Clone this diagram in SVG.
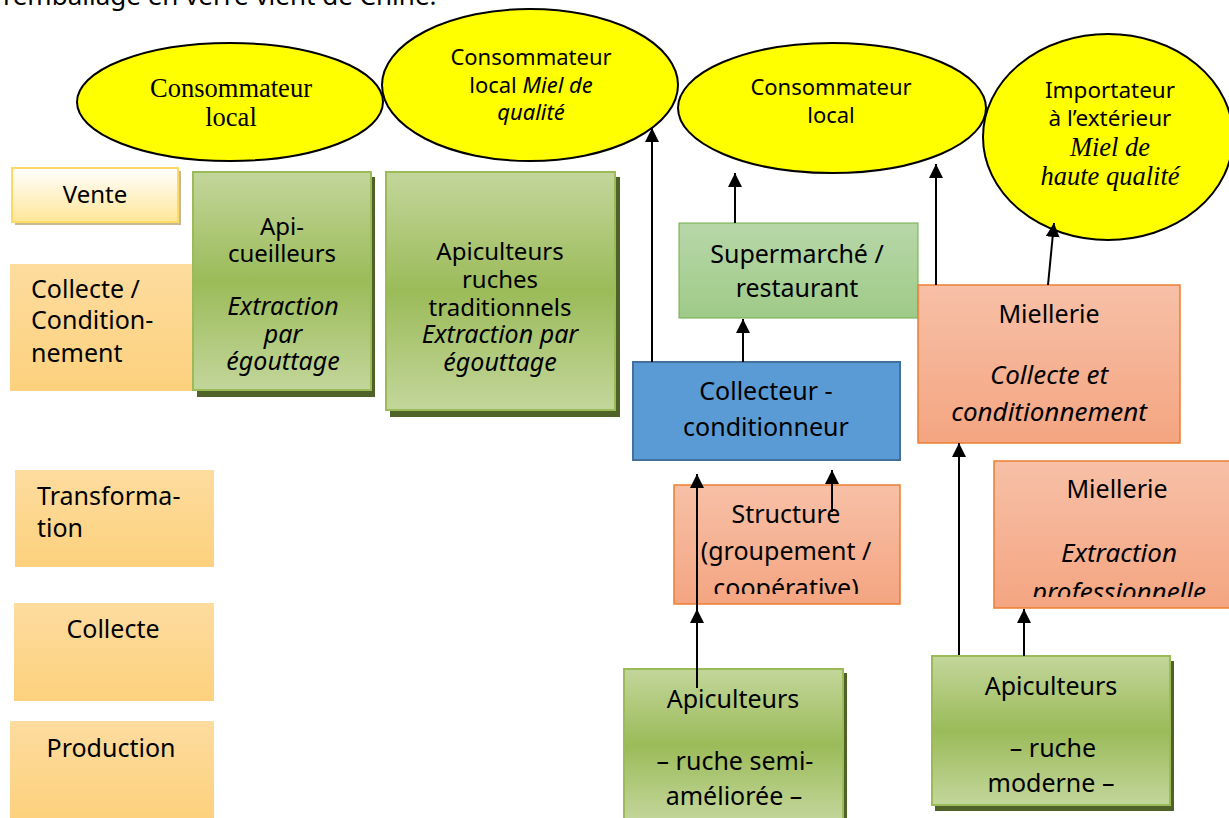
<svg xmlns="http://www.w3.org/2000/svg" width="1229" height="818" viewBox="0 0 1229 818">
<defs>
<linearGradient id="gOrange" x1="0" y1="0" x2="0" y2="1"><stop offset="0" stop-color="#FDDC9F"/><stop offset="1" stop-color="#FDD17D"/></linearGradient>
<linearGradient id="gVente" x1="0" y1="0" x2="0" y2="1"><stop offset="0" stop-color="#FFFFFF"/><stop offset="1" stop-color="#FFE697"/></linearGradient>
<linearGradient id="gGreen" x1="0" y1="0" x2="0" y2="1"><stop offset="0" stop-color="#C3D69B"/><stop offset="0.5" stop-color="#9BBB59"/><stop offset="1" stop-color="#C3D69B"/></linearGradient>
<linearGradient id="gLight" x1="0" y1="0" x2="0" y2="1"><stop offset="0" stop-color="#B7D7A8"/><stop offset="1" stop-color="#9FCA88"/></linearGradient>
<linearGradient id="gSalmon" x1="0" y1="0" x2="0" y2="1"><stop offset="0" stop-color="#F7C0A7"/><stop offset="1" stop-color="#F4A581"/></linearGradient>
<marker id="arr" markerUnits="userSpaceOnUse" markerWidth="14" markerHeight="14" refX="14" refY="7" orient="auto"><path d="M0,0 L14,7 L0,14 z" fill="#000"/></marker>
<clipPath id="clipStruct"><rect x="674" y="485" width="226" height="109"/></clipPath>
<clipPath id="clipMiel2"><rect x="994" y="461" width="235" height="136"/></clipPath>
</defs>
<style>
.sans{font-family:"Noto Sans","DejaVu Sans",sans-serif;font-size:24px;fill:#000}
.e{font-size:22px}
.l{font-size:25px}
.r{font-size:25px}
.ri{font-size:26px}
.ser{font-family:"Liberation Serif","Times New Roman",serif;font-size:26.5px;fill:#000}
.it{font-style:italic}
.c{text-anchor:middle}
.ell{fill:#FFFF00;stroke:#000;stroke-width:2}
.lab{fill:url(#gOrange)}
.grn{fill:url(#gGreen);stroke:#9BBB59;stroke-width:2}
.shd{fill:#4F6228}
.sal{fill:url(#gSalmon);stroke:#ED7D31;stroke-width:1.5}
.con{stroke:#000;stroke-width:2;fill:none;marker-end:url(#arr)}
</style>
<rect width="1229" height="818" fill="#fff"/>
<text class="sans" x="3" y="5" style="font-size:26px">l’emballage en verre vient de Chine.</text>

<g id="n-conso1"><ellipse class="ell" cx="230" cy="102" rx="153" ry="59"/><text class="ser c" x="231" y="97">Consommateur</text><text class="ser c" x="231" y="126">local</text></g>
<g id="n-conso2"><ellipse class="ell" cx="530" cy="85" rx="148" ry="76"/><text class="sans e c" x="531" y="65">Consommateur</text><text class="sans e c" x="531" y="93">local <tspan class="it">Miel de</tspan></text><text class="sans e c it" x="531" y="120">qualité</text></g>
<g id="n-conso3"><ellipse class="ell" cx="832" cy="108" rx="154" ry="65"/><text class="sans e c" x="831" y="95">Consommateur</text><text class="sans e c" x="831" y="123">local</text></g>
<g id="n-import"><ellipse class="ell" cx="1108" cy="137" rx="125" ry="103"/><text class="sans c" x="1110" y="98" style="font-size:22.5px">Importateur</text><text class="sans c" x="1110" y="126" style="font-size:22.5px">à l’extérieur</text><text class="ser c it" x="1110" y="156">Miel de</text><text class="ser c it" x="1110" y="185">haute qualité</text></g>

<g id="n-vente"><rect x="15" y="171" width="166" height="54" fill="#C9B98E"/><rect x="12" y="168" width="166" height="54" fill="url(#gVente)" stroke="#FFD966" stroke-width="2"/><text class="sans c" x="95" y="203">Vente</text></g>
<g id="n-collcond"><rect class="lab" x="10" y="264" width="184" height="127"/><text class="sans l" x="31" y="298">Collecte /</text><text class="sans l" x="31" y="329">Condition-</text><text class="sans l" x="31" y="362">nement</text></g>
<g id="n-transfo"><rect class="lab" x="15" y="470" width="199" height="97"/><text class="sans l" x="37" y="505">Transforma-</text><text class="sans l" x="37" y="537">tion</text></g>
<g id="n-collecte"><rect class="lab" x="14" y="603" width="200" height="98"/><text class="sans l c" x="113" y="638">Collecte</text></g>
<g id="n-production"><rect class="lab" x="10" y="721" width="204" height="97"/><text class="sans l c" x="111" y="757">Production</text></g>

<g id="n-apicueil"><rect class="shd" x="197" y="177" width="178" height="220"/><rect class="grn" x="193" y="172" width="178" height="218"/><text class="sans c" x="282" y="235">Api-</text><text class="sans c" x="282" y="262">cueilleurs</text><text class="sans l c it" x="283" y="315">Extraction</text><text class="sans l c it" x="283" y="343">par</text><text class="sans l c it" x="283" y="370">égouttage</text></g>
<g id="n-apitrad"><rect class="shd" x="390" y="177" width="230" height="240"/><rect class="grn" x="386" y="172" width="229" height="238"/><text class="sans c" x="500" y="260">Apiculteurs</text><text class="sans c" x="500" y="288">ruches</text><text class="sans c" x="500" y="316">traditionnels</text><text class="sans l c it" x="500" y="343">Extraction par</text><text class="sans l c it" x="500" y="371">égouttage</text></g>

<g id="n-super"><rect x="679" y="223" width="239" height="95" fill="url(#gLight)" stroke="#70AD47" stroke-width="1"/><text class="sans r c" x="797" y="263">Supermarché /</text><text class="sans r c" x="797" y="297">restaurant</text></g>
<g id="n-collecteur"><rect x="633" y="362" width="267" height="98" fill="#5B9BD5" stroke="#41719C" stroke-width="2"/><text class="sans r c" x="766" y="400">Collecteur -</text><text class="sans r c" x="766" y="436">conditionneur</text></g>
<g id="n-miel1"><rect class="sal" x="918" y="285" width="262" height="158"/><text class="sans r c" x="1049" y="323">Miellerie</text><text class="sans ri c it" x="1049" y="384">Collecte et</text><text class="sans ri c it" x="1049" y="421">conditionnement</text></g>
<g id="n-structure"><rect class="sal" x="674" y="485" width="226" height="119"/><g clip-path="url(#clipStruct)"><text class="sans r c" x="786" y="523">Structure</text><text class="sans r c" x="786" y="560">(groupement /</text><text class="sans r c" x="786" y="597">coopérative)</text></g></g>
<g id="n-miel2"><rect class="sal" x="994" y="461" width="240" height="147"/><g clip-path="url(#clipMiel2)"><text class="sans r c" x="1117" y="498">Miellerie</text><text class="sans ri c it" x="1119" y="562">Extraction</text><text class="sans ri c it" x="1119" y="601">professionnelle</text></g></g>
<g id="n-apisemi"><rect class="shd" x="627" y="673" width="220" height="150"/><rect class="grn" x="624" y="669" width="219" height="152"/><text class="sans r c" x="733" y="708">Apiculteurs</text><text class="sans r c" x="735" y="770">– ruche semi-</text><text class="sans r c" x="734" y="805">améliorée –</text></g>
<g id="n-apimod"><rect class="shd" x="935" y="661" width="239" height="150"/><rect class="grn" x="932" y="656" width="238" height="149"/><text class="sans r c" x="1051" y="695">Apiculteurs</text><text class="sans r c" x="1053" y="757">– ruche</text><text class="sans r c" x="1051" y="792">moderne –</text></g>

<g id="connectors">
<path class="con" d="M652,362 L652,128"/>
<path class="con" d="M735,223 L735,173"/>
<path class="con" d="M743,362 L743,319"/>
<path class="con" d="M936,285 L936,164"/>
<path class="con" d="M1048,285 L1054,223"/>
<path class="con" d="M959,655 L959,443"/>
<path class="con" d="M1024,656 L1024,609"/>
<path class="con" d="M697,688 L697,609"/>
<path class="con" d="M697,609 L697,474"/>
<path class="con" d="M832,512 L832,470"/>
</g>
</svg>
